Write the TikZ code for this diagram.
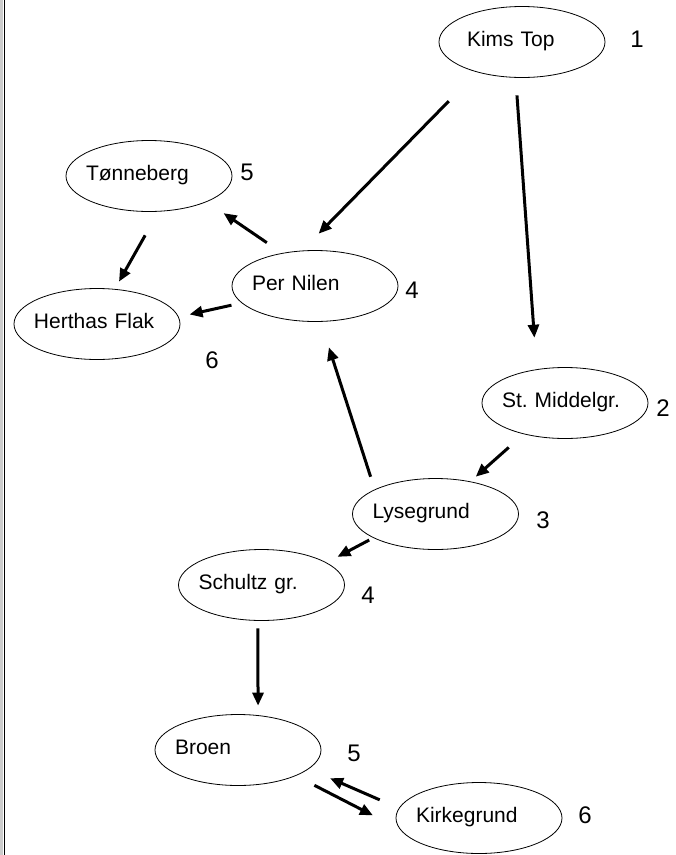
\documentclass[tikz,border=0pt]{standalone}
\usepackage{fontspec}
\setmainfont{Liberation Sans}
\usetikzlibrary{arrows.meta,shapes.geometric}

\begin{document}
\begin{tikzpicture}[x=1pt, y=-1pt, > = {Triangle[length=13pt,width=11pt]},
  bank/.style = {draw, ellipse, line width=0.8pt, minimum width=166pt, minimum height=71pt,
    inner xsep=-5pt, inner ysep=0pt, text width=126pt, align=left,
    text height=15pt, text depth=6pt, font=\fontsize{21}{25}\selectfont},
  rank/.style = {font=\fontsize{24}{28}\selectfont},
  route/.style = {->, line width=3pt}]
\useasboundingbox (0,0) rectangle (676,855);
\draw[black!20, line width=3pt] (1.5,0) -- (1.5,855);
\draw[line width=1.3pt] (4.2,0) -- (4.2,855);

\node (kims) [bank] at (522,42) {\hspace*{8pt}Kims Top};
\node (tonneberg) [bank] at (149,176) {Tønneberg};
\node (pernilen) [bank] at (315,286) {Per Nilen};
\node (herthas) [bank] at (97,324) {Herthas Flak};
\node (middelgr) [bank] at (565,403) {St.\ Middelgr.};
\node (lysegrund) [bank] at (435.5,514) {Lysegrund};
\node (schultz) [bank] at (261.5,585) {Schultz gr.};
\node (broen) [bank] at (238,750) {Broen};
\node (kirkegrund) [bank] at (479,818) {Kirkegrund};

\node (kims-n) [rank] at (637,39) {1};
\node (tonneberg-n) [rank] at (247,172) {5};
\node (pernilen-n) [rank] at (412,290) {4};
\node (herthas-n) [rank] at (212,360) {6};
\node (middelgr-n) [rank] at (663,408) {2};
\node (lysegrund-n) [rank] at (543,520) {3};
\node (schultz-n) [rank] at (368,595) {4};
\node (broen-n) [rank] at (354,753) {5};
\node (kirkegrund-n) [rank] at (585,815) {6};

\draw[route, shorten <=40.5pt, shorten >=23.6pt] (kims.214) -- (pernilen.110);
\draw[route, shorten <=17.6pt, shorten >=31.6pt] (kims.260) -- (middelgr.130);
\draw[route, shorten <=18.4pt, shorten >=20.1pt] (pernilen.135) -- (tonneberg.336);
\draw[route, shorten <=27.2pt, shorten >=8.4pt] (tonneberg.285) -- (herthas.63);
\draw[route, shorten <=10.3pt, shorten >=11.1pt] (pernilen.193) -- (herthas.5);
\draw[route, shorten <=13.3pt, shorten >=26.8pt] (lysegrund.158) -- (pernilen.279);
\draw[route, shorten <=19.9pt, shorten >=7.1pt] (middelgr.217) -- (lysegrund.43);
\draw[route, shorten <=4.6pt, shorten >=12.3pt] (lysegrund.201) -- (schultz.19);
\draw[route, shorten <=7.5pt, shorten >=9.5pt] (schultz.264) -- (broen.60);
\draw[route, shorten <=20.7pt, shorten >=30.1pt] (broen.336) -- (kirkegrund.188);
\draw[route, shorten <=20.8pt, shorten >=23.2pt] (kirkegrund.173) -- (broen.345);
\end{tikzpicture}
\end{document}
